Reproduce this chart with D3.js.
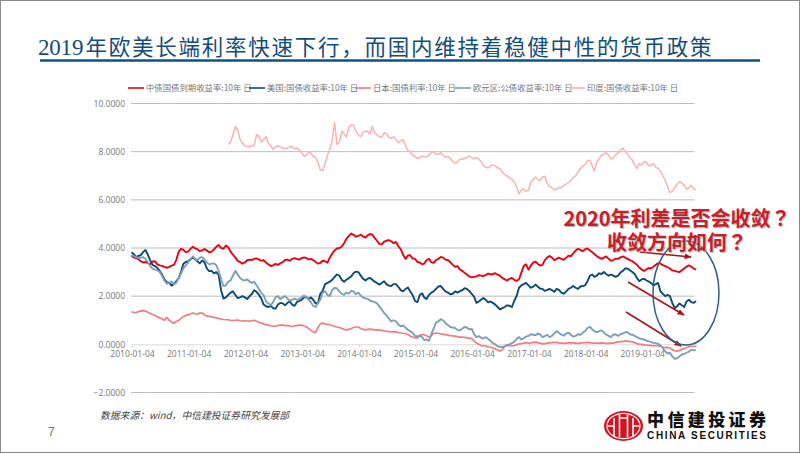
<!DOCTYPE html>
<html>
<head>
<meta charset="utf-8">
<script src="https://cdn.jsdelivr.net/npm/d3@7"></script>
<style>
html, body { margin: 0; padding: 0; background: #fff; }
svg { display: block; }
</style>
</head>
<body>
<script>
// readings at the start of each month, 2010-01 .. 2019-12
const china = [3.68,3.58,3.45,3.42,3.32,3.45,3.28,3.22,3.22,3.3,3.85,3.92,
  3.85,4.05,3.95,3.9,3.9,3.85,4.05,4.0,4.1,3.85,3.6,3.42,
  3.4,3.52,3.55,3.52,3.5,3.32,3.28,3.3,3.42,3.52,3.55,3.55,
  3.58,3.58,3.55,3.42,3.38,3.45,3.6,3.9,4.0,4.2,4.5,4.55,
  4.5,4.48,4.52,4.55,4.3,4.15,4.3,4.28,4.25,3.95,3.55,3.7,
  3.55,3.4,3.35,3.55,3.38,3.55,3.6,3.5,3.3,3.25,3.05,2.9,
  2.78,2.82,2.85,2.88,2.9,2.95,2.85,2.7,2.72,2.68,2.7,3.25,
  3.1,3.4,3.35,3.3,3.6,3.6,3.55,3.55,3.6,3.65,3.9,3.92,
  3.95,3.9,3.75,3.6,3.6,3.55,3.5,3.55,3.65,3.55,3.45,3.3,
  3.1,3.12,3.15,3.3,3.35,3.25,3.15,3.05,3.0,3.15,3.28,3.15];
const usa = [3.82,3.62,3.7,3.92,3.5,3.25,3.05,2.7,2.55,2.5,2.75,3.35,
  3.45,3.6,3.45,3.48,3.15,3.05,3.0,2.25,1.95,2.15,2.05,1.95,
  1.95,2.0,2.25,2.05,1.65,1.55,1.5,1.65,1.7,1.72,1.65,1.75,
  1.85,1.95,1.95,1.7,2.1,2.5,2.6,2.8,2.85,2.6,2.75,2.95,
  3.0,2.72,2.72,2.68,2.55,2.55,2.5,2.42,2.5,2.25,2.3,2.2,
  1.8,2.05,1.95,2.05,2.2,2.4,2.3,2.15,2.1,2.15,2.25,2.3,
  2.1,1.72,1.85,1.85,1.78,1.65,1.45,1.55,1.6,1.8,2.35,2.5,
  2.45,2.4,2.4,2.3,2.25,2.25,2.3,2.15,2.2,2.35,2.35,2.4,
  2.45,2.85,2.8,2.95,3.0,2.85,2.85,2.85,3.05,3.15,3.0,2.75,
  2.7,2.65,2.55,2.5,2.2,2.0,2.0,1.5,1.7,1.55,1.85,1.72];
const japan = [1.35,1.32,1.38,1.38,1.28,1.2,1.1,1.0,1.0,0.88,1.0,1.15,
  1.22,1.3,1.25,1.3,1.18,1.15,1.1,1.05,1.02,1.0,1.0,0.98,
  0.98,0.96,1.0,0.92,0.85,0.8,0.75,0.78,0.8,0.78,0.74,0.78,
  0.8,0.72,0.58,0.5,0.85,0.85,0.82,0.75,0.7,0.62,0.62,0.7,
  0.72,0.62,0.62,0.62,0.6,0.58,0.55,0.52,0.52,0.47,0.45,0.35,
  0.28,0.38,0.4,0.3,0.45,0.46,0.42,0.38,0.35,0.32,0.3,0.27,
  0.25,0.05,-0.05,-0.08,-0.12,-0.18,-0.28,-0.08,-0.05,-0.05,0.02,0.05,
  0.05,0.08,0.07,0.02,0.05,0.07,0.08,0.05,0.05,0.07,0.05,0.05,
  0.07,0.07,0.05,0.05,0.05,0.04,0.05,0.1,0.12,0.13,0.1,0.03,
  0.0,-0.03,-0.05,-0.05,-0.08,-0.14,-0.15,-0.27,-0.25,-0.18,-0.1,-0.08];
const euro = [3.7,3.62,3.6,3.55,3.25,3.1,3.0,2.65,2.55,2.5,2.75,3.15,
  3.4,3.65,3.5,3.62,3.4,3.35,3.28,2.7,2.45,2.65,3.05,2.75,
  2.65,2.6,2.6,2.3,2.05,1.7,1.75,2.0,1.95,1.9,1.85,1.85,
  1.95,1.95,1.75,1.55,1.85,2.2,2.0,2.35,2.2,2.05,2.1,2.2,
  2.15,1.95,1.9,1.78,1.7,1.45,1.2,0.95,0.95,0.75,0.7,0.55,
  0.35,0.35,0.18,0.15,0.65,0.95,1.0,0.8,0.7,0.6,0.65,0.7,
  0.65,0.3,0.28,0.3,0.15,0.0,-0.1,-0.08,0.0,0.1,0.3,0.25,
  0.35,0.4,0.45,0.3,0.4,0.35,0.55,0.4,0.45,0.4,0.35,0.4,
  0.55,0.72,0.55,0.55,0.5,0.35,0.4,0.35,0.45,0.5,0.4,0.3,
  0.22,0.15,0.1,0.05,-0.05,-0.3,-0.35,-0.6,-0.5,-0.4,-0.3,-0.25];
const india = [null,null,null,null,null,null,null,null,null,null,null,null,
  null,null,null,null,null,null,null,null,null,8.4,9.05,8.5,
  8.25,8.2,8.25,8.65,8.5,8.35,8.1,8.25,8.15,8.15,8.2,8.15,
  7.95,7.85,7.95,7.75,7.25,7.5,8.1,9.2,8.4,8.75,9.0,9.1,
  8.7,8.8,8.85,9.05,8.7,8.6,8.75,8.55,8.5,8.45,8.25,8.0,
  7.8,7.75,7.8,7.85,8.0,7.9,7.85,7.8,7.6,7.55,7.7,7.75,
  7.75,7.75,7.6,7.35,7.4,7.4,7.3,7.05,6.9,6.75,6.25,6.45,
  6.4,6.85,6.85,6.95,6.7,6.5,6.45,6.5,6.65,6.8,7.0,7.3,
  7.45,7.65,7.2,7.7,7.9,7.85,7.75,7.95,8.15,7.9,7.65,7.3,
  7.45,7.55,7.45,7.35,7.2,6.8,6.3,6.5,6.75,6.6,6.5,6.45];

// readings at the middle of each month
const chinaMid = [3.6,3.53,3.4,3.37,3.44,3.32,3.26,3.18,3.27,3.5,3.97,3.83,
  3.97,3.98,3.87,3.96,3.82,3.94,4.12,3.97,4.03,3.72,3.46,3.35,
  3.49,3.5,3.57,3.47,3.4,3.25,3.34,3.36,3.5,3.47,3.58,3.52,
  3.61,3.52,3.5,3.35,3.47,3.39,3.76,3.98,4.06,4.38,4.6,4.47,
  4.55,4.43,4.58,4.42,4.17,4.26,4.33,4.2,4.07,3.72,3.69,3.57,
  3.42,3.32,3.49,3.41,3.5,3.63,3.52,3.41,3.22,3.12,2.97,2.82,
  2.8,2.87,2.83,2.94,2.92,2.89,2.76,2.65,2.76,2.63,2.98,3.32,
  3.27,3.43,3.27,3.5,3.67,3.5,3.6,3.51,3.68,3.78,3.97,3.87,
  3.98,3.82,3.67,3.55,3.65,3.47,3.56,3.61,3.6,3.5,3.38,3.19,
  3.05,3.17,3.22,3.37,3.29,3.2,3.07,3.02,3.08,3.23,3.22,3.1];
const usaMid = [3.74,3.68,3.83,3.72,3.3,3.18,2.9,2.58,2.44,2.62,3.02,3.42,
  3.53,3.54,3.36,3.4,3.04,2.95,2.88,1.9,2.05,2.2,1.92,2.0,
  1.88,2.1,2.18,1.9,1.58,1.6,1.48,1.72,1.62,1.78,1.6,1.8,
  1.95,1.88,1.85,1.72,2.22,2.55,2.68,2.9,2.68,2.68,2.82,3.02,
  2.85,2.65,2.76,2.6,2.48,2.62,2.44,2.5,2.38,2.2,2.36,2.05,
  1.75,2.12,1.88,2.15,2.3,2.42,2.2,2.08,2.2,2.2,2.33,2.22,
  1.98,1.78,1.92,1.74,1.72,1.55,1.5,1.62,1.55,2.0,2.45,2.55,
  2.35,2.48,2.32,2.22,2.3,2.18,2.26,2.1,2.3,2.42,2.3,2.42,
  2.62,2.9,2.85,2.92,2.92,2.9,2.8,2.98,3.15,3.08,2.92,2.62,
  2.72,2.6,2.45,2.55,2.1,2.05,1.72,1.58,1.62,1.78,1.75,1.8];
const japanMid = [1.33,1.36,1.4,1.33,1.24,1.14,1.06,1.12,0.92,0.95,1.08,1.2,
  1.27,1.27,1.3,1.22,1.16,1.12,1.08,1.03,1.02,0.99,1.01,0.97,
  0.97,0.98,0.96,0.88,0.82,0.77,0.76,0.8,0.78,0.76,0.77,0.8,
  0.76,0.65,0.52,0.7,0.88,0.83,0.78,0.72,0.66,0.6,0.66,0.72,
  0.66,0.6,0.63,0.6,0.59,0.56,0.53,0.53,0.49,0.46,0.41,0.3,
  0.26,0.4,0.36,0.36,0.47,0.43,0.4,0.36,0.34,0.3,0.29,0.26,
  0.14,0.0,-0.06,-0.1,-0.15,-0.24,-0.22,-0.05,-0.07,-0.02,0.03,0.07,
  0.06,0.09,0.05,0.03,0.06,0.08,0.06,0.04,0.06,0.06,0.04,0.06,
  0.08,0.05,0.05,0.06,0.04,0.05,0.08,0.11,0.14,0.11,0.07,0.01,
  -0.02,-0.04,-0.06,-0.06,-0.11,-0.13,-0.22,-0.28,-0.21,-0.14,-0.09,-0.08];
const euroMid = [3.66,3.58,3.62,3.42,3.14,3.08,2.85,2.52,2.6,2.55,2.95,3.28,
  3.55,3.55,3.6,3.52,3.32,3.36,3.05,2.42,2.6,2.85,2.9,2.68,
  2.7,2.55,2.45,2.12,1.78,1.62,1.95,1.88,2.0,1.82,1.9,1.88,
  2.02,1.85,1.6,1.72,2.15,2.05,2.25,2.32,2.1,2.15,2.22,2.08,
  2.02,1.9,1.82,1.75,1.58,1.3,1.08,1.0,0.82,0.78,0.6,0.48,
  0.33,0.3,0.2,0.42,0.9,1.05,0.88,0.72,0.68,0.58,0.72,0.62,
  0.42,0.34,0.24,0.22,0.05,-0.08,-0.12,-0.02,0.05,0.22,0.2,0.32,
  0.42,0.38,0.42,0.34,0.3,0.45,0.48,0.36,0.48,0.32,0.42,0.48,
  0.68,0.62,0.5,0.58,0.4,0.3,0.42,0.42,0.5,0.42,0.35,0.25,
  0.2,0.12,0.06,0.02,-0.15,-0.38,-0.5,-0.58,-0.42,-0.35,-0.22,-0.24];
const indiaMid = [null,null,null,null,null,null,null,null,null,null,null,null,
  null,null,null,null,null,null,null,null,8.3,8.7,8.9,8.35,
  8.2,8.25,8.7,8.4,8.62,8.25,8.2,8.2,8.12,8.2,8.12,8.08,
  7.82,7.98,7.8,7.55,7.2,7.85,8.45,8.3,8.85,8.6,9.12,8.85,
  8.62,8.85,8.72,8.8,8.62,8.78,8.6,8.62,8.38,8.5,8.05,7.85,
  7.72,7.82,7.78,7.98,7.88,7.95,7.78,7.72,7.52,7.68,7.72,7.82,
  7.7,7.68,7.42,7.32,7.45,7.32,7.15,7.0,6.85,6.55,6.4,6.35,
  6.75,6.95,6.8,6.98,6.55,6.42,6.52,6.6,6.72,6.92,7.15,7.4,
  7.62,7.4,7.55,7.85,7.95,7.7,7.88,8.05,8.0,7.75,7.45,7.5,
  7.6,7.4,7.5,7.3,7.0,6.55,6.35,6.65,6.7,6.45,6.6,6.42];

const seriesNames = ["中债国债到期收益率:10年 日", "美国:国债收益率:10年 日", "日本:国债利率:10年 日", "欧元区:公债收益率:10年 日", "印度:国债收益率:10年 日"];
const seriesColors = ["#f0000f", "#0d4a78", "#f27c80", "#7d9fb8", "#f9b3b3"];
const seriesWidths = [1.9, 1.9, 1.7, 1.9, 1.5];
const yTicks = [-2, 0, 2, 4, 6, 8, 10];
const xTickLabels = ["2010-01-04","2011-01-04","2012-01-04","2013-01-04","2014-01-04","2015-01-04","2016-01-04","2017-01-04","2018-01-04","2019-01-04"];
const months = d3.utcMonth.range(new Date(Date.UTC(2010, 0, 1)), new Date(Date.UTC(2020, 0, 1)));

var w = 802, h = 454;
var parse = d3.utcParse("%Y-%m-%d");

var svg = d3.select("body").append("svg").attr("width", w).attr("height", h);
svg.append("rect").attr("x", 0.5).attr("y", 0.5).attr("width", w - 3).attr("height", h - 2)
  .style("fill", "#fff").style("stroke", "#8a8a8a").style("stroke-width", 1);

// title
var title = svg.append("text").attr("x", 38).attr("y", 55).style("fill", "#134d7c");
title.append("tspan").text("2019")
  .style("font-family", "'Liberation Serif'").style("font-size", "23px").style("letter-spacing", "-0.2px");
title.append("tspan").attr("x", 85.5).text("年欧美长端利率快速下行，而国内维持着稳健中性的货币政策")
  .style("font-family", "'Noto Sans CJK SC'").style("font-size", "21.5px").style("letter-spacing", "1.75px");
svg.append("line").attr("x1", 40).attr("x2", 760).attr("y1", 60.5).attr("y2", 60.5)
  .style("stroke", "#0f5286").style("stroke-width", 2.5);

// scales
var x = d3.scaleUtc().domain([parse("2010-01-04"), parse("2019-12-16")]).range([132, 696]);
var y = d3.scaleLinear().domain([-2, 10]).range([392.5, 103.5]);

// grid + axes
svg.append("g").selectAll("line").data(yTicks.filter(d => d != 0)).enter().append("line")
  .attr("x1", 131).attr("x2", 694.5).attr("y1", d => y(d)).attr("y2", d => y(d))
  .style("stroke", "#bdbdbd").style("stroke-width", 1);

var yAxis = svg.append("g").attr("transform", "translate(125,0)")
  .call(d3.axisLeft(y).tickValues(yTicks).tickSize(0).tickFormat(d3.format(".4f")));
yAxis.select(".domain").remove();
yAxis.selectAll("text").attr("x", 0).style("font-family", "'Open Sans'").style("font-size", "8.5px").style("fill", "#777");

var xAxis = svg.append("g").attr("transform", "translate(0," + y(0) + ")")
  .call(d3.axisBottom(x).tickValues(xTickLabels.map(parse)).tickSize(3).tickFormat(d3.utcFormat("%Y-%m-%d")));
xAxis.select(".domain").style("stroke", "#d9d9d9");
xAxis.selectAll("line").style("stroke", "#d9d9d9");
xAxis.selectAll("text").attr("y", 7).style("font-family", "'Open Sans'").style("font-size", "8.5px").style("fill", "#777");

// each series: month start point followed by its mid-month point
function points(start, mid) {
  var out = [];
  months.forEach(function (m, k) {
    out.push([m, start[k]]);
    out.push([d3.utcDay.offset(m, 15), mid[k]]);
  });
  return out;
}
var line = d3.line().defined(d => d[1] != null).x(d => x(d[0])).y(d => y(d[1]));
[[china, chinaMid], [usa, usaMid], [japan, japanMid], [euro, euroMid], [india, indiaMid]].forEach(function (s, i) {
  svg.append("path").datum(points(s[0], s[1]))
    .attr("d", line).style("fill", "none")
    .style("stroke", seriesColors[i]).style("stroke-width", seriesWidths[i]).style("stroke-linejoin", "round");
});

// legend
var legendX = [128, 249, 355, 455, 569];
var legend = svg.append("g").selectAll("g").data(seriesNames).enter().append("g")
  .attr("transform", (d, i) => "translate(" + legendX[i] + ",88)");
legend.append("line").attr("x1", 0).attr("x2", 16).attr("y1", 0).attr("y2", 0)
  .style("stroke", (d, i) => seriesColors[i]).style("stroke-width", 1.6);
legend.append("text").attr("x", 18).attr("y", 3.2).text(d => d)
  .style("font-family", "'Noto Sans CJK SC'").style("font-size", "8.4px").style("fill", "#777");

// annotations
var defs = svg.append("defs");
defs.append("marker").attr("id", "arr").attr("viewBox", "0 0 10 10").attr("refX", 9).attr("refY", 5)
  .attr("markerWidth", 4.5).attr("markerHeight", 4.5).attr("orient", "auto")
  .append("path").attr("d", "M0,1L10,5L0,9Z").style("fill", "#b01218");
var arrows = [[640, 252, 691, 257], [628, 282, 684, 315], [626, 312, 681, 346]];
svg.append("g").selectAll("line").data(arrows).enter().append("line")
  .attr("x1", d => d[0]).attr("y1", d => d[1]).attr("x2", d => d[2]).attr("y2", d => d[3])
  .attr("marker-end", "url(#arr)").style("stroke", "#b01218").style("stroke-width", 1.6);
svg.append("ellipse").attr("cx", 686).attr("cy", 293).attr("rx", 33).attr("ry", 52)
  .style("fill", "none").style("stroke", "#2d5f88").style("stroke-width", 1.5);

var notes = [["2020年利差是否会收敛？", 677, 226], ["收敛方向如何？", 677, 250]];
svg.append("g").selectAll("text").data(notes).enter().append("text")
  .attr("x", d => d[1]).attr("y", d => d[2]).text(d => d[0])
  .attr("text-anchor", "middle")
  .style("font-family", "'Noto Sans CJK TC'").style("font-weight", "700").style("font-size", "20px")
  .style("fill", "#c4212c").style("text-shadow", "1px 1px 1px #b0b0b0");

// footer
svg.append("text").attr("x", 100).attr("y", 419).text("数据来源：wind，中信建投证券研究发展部")
  .style("font-family", "'Noto Sans CJK SC'").style("font-style", "italic").style("font-size", "9.8px").style("fill", "#444");
svg.append("text").attr("x", 48).attr("y", 436).text("7")
  .style("font-family", "'Liberation Sans'").style("font-size", "12px").style("fill", "#777");

// logo
var logo = svg.append("g").attr("transform", "translate(623.5,426)");
logo.append("ellipse").attr("rx", 19.5).attr("ry", 15).style("fill", "#d5121e");
logo.append("ellipse").attr("rx", 16.5).attr("ry", 12.6).style("fill", "none").style("stroke", "#fff").style("stroke-width", 1.2);
logo.selectAll("line.bar").data([-9.5, -4, 4, 9.5]).enter().append("line")
  .attr("x1", d => d).attr("x2", d => d).attr("y1", d => Math.abs(d) > 5 ? -8 : -11).attr("y2", 11)
  .style("stroke", "#fff").style("stroke-width", 1.6);
logo.selectAll("line.arm").data([[-16, -9.5], [9.5, 16], [-4, 4]]).enter().append("line")
  .attr("x1", d => d[0]).attr("x2", d => d[1]).attr("y1", (d, i) => i == 2 ? -8 : 0).attr("y2", (d, i) => i == 2 ? -8 : 0)
  .style("stroke", "#fff").style("stroke-width", 1.4);
svg.append("text").attr("x", 647).attr("y", 426).attr("textLength", 119).text("中信建投证券")
  .style("font-family", "'Noto Sans CJK SC'").style("font-weight", "900").style("font-size", "17px").style("fill", "#111");
svg.append("text").attr("x", 647).attr("y", 439).attr("textLength", 119).text("CHINA SECURITIES")
  .style("font-family", "'Liberation Sans'").style("font-weight", "700").style("font-size", "10px").style("fill", "#111");
</script>
</body>
</html>
